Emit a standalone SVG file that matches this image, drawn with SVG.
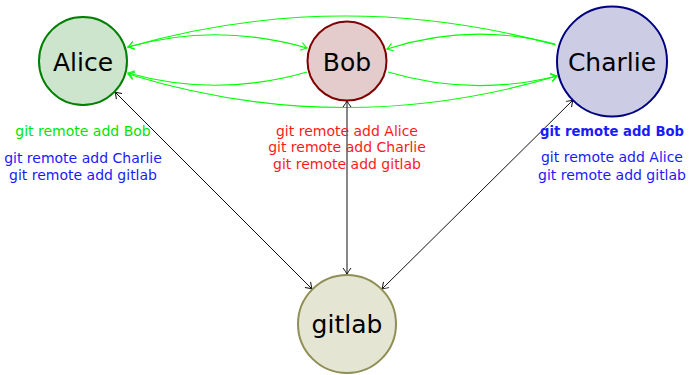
<svg xmlns="http://www.w3.org/2000/svg" width="689" height="375" viewBox="0 0 689 375">
<style>
.node{stroke-width:2}
.lbl{font-family:"DejaVu Sans",sans-serif;font-size:25px;fill:#000;text-anchor:middle}
.t{font-family:"DejaVu Sans",sans-serif;font-size:14px;text-anchor:middle}
.bold{font-weight:bold;font-size:13.2px}
.g{fill:#00e600}
.b{fill:#1a1aff}
.r{fill:#ff1a1a}
.ge{fill:none;stroke:#00ff00;stroke-width:1.1}
.be{fill:none;stroke:#111;stroke-width:1}
</style>
<defs>
<marker id="ag" viewBox="-7 -5 8 10" markerWidth="8" markerHeight="10" refX="0" refY="0" orient="auto-start-reverse" markerUnits="userSpaceOnUse">
<path d="M-6,-4 Q-1.8,-0.9 0,0 Q-1.8,0.9 -6,4" fill="none" stroke="#00ff00" stroke-width="1.1"/>
</marker>
<marker id="ab" viewBox="-7 -5 8 10" markerWidth="8" markerHeight="10" refX="0" refY="0" orient="auto-start-reverse" markerUnits="userSpaceOnUse">
<path d="M-6,-4 Q-1.8,-0.9 0,0 Q-1.8,0.9 -6,4" fill="none" stroke="#111" stroke-width="1"/>
</marker>
</defs>
<g id="connectors">
<path class="ge" d="M128,47 Q217,22 307,48" marker-start="url(#ag)" marker-end="url(#ag)"/>
<path class="ge" d="M307,72 Q217,98 128,73" marker-end="url(#ag)"/>
<path class="ge" d="M556,45 Q341,-14 128,47" marker-end="url(#ag)"/>
<path class="ge" d="M128,74 Q342,140 557,76" marker-start="url(#ag)" marker-end="url(#ag)"/>
<path class="ge" d="M555,44 Q470,22 387,49" marker-end="url(#ag)"/>
<path class="ge" d="M388,72 Q472,97 557,76" marker-end="url(#ag)"/>
<path class="be" d="M115,92 L312,289" marker-start="url(#ab)" marker-end="url(#ab)"/>
<path class="be" d="M347,101 L347,274" marker-start="url(#ab)" marker-end="url(#ab)"/>
<path class="be" d="M573,100 L382,289" marker-start="url(#ab)" marker-end="url(#ab)"/>
</g>
<g id="alice">
<circle class="node" cx="83" cy="61" r="44" fill="#cce5cc" stroke="#008000"/>
<text class="lbl" x="83" y="71">Alice</text>
<text class="t g" x="83" y="136">git remote add Bob</text>
<text class="t b" x="83" y="163">git remote add Charlie</text>
<text class="t b" x="83" y="180">git remote add gitlab</text>
</g>
<g id="bob">
<circle class="node" cx="347" cy="61" r="39.5" fill="#e5cccc" stroke="#800000"/>
<text class="lbl" x="347" y="71">Bob</text>
<text class="t r" x="347" y="136">git remote add Alice</text>
<text class="t r" x="347" y="152">git remote add Charlie</text>
<text class="t r" x="347" y="169">git remote add gitlab</text>
</g>
<g id="charlie">
<circle class="node" cx="612" cy="61.5" r="55" fill="#ccccE5" stroke="#000080"/>
<text class="lbl" x="612" y="71">Charlie</text>
<text class="t b bold" x="612" y="136">git remote add Bob</text>
<text class="t b" x="612" y="162">git remote add Alice</text>
<text class="t b" x="612" y="180">git remote add gitlab</text>
</g>
<g id="gitlab">
<circle class="node" cx="347" cy="324" r="49" fill="#e5e5d4" stroke="#8f8f55"/>
<text class="lbl" x="347" y="333">gitlab</text>
</g>
</svg>
